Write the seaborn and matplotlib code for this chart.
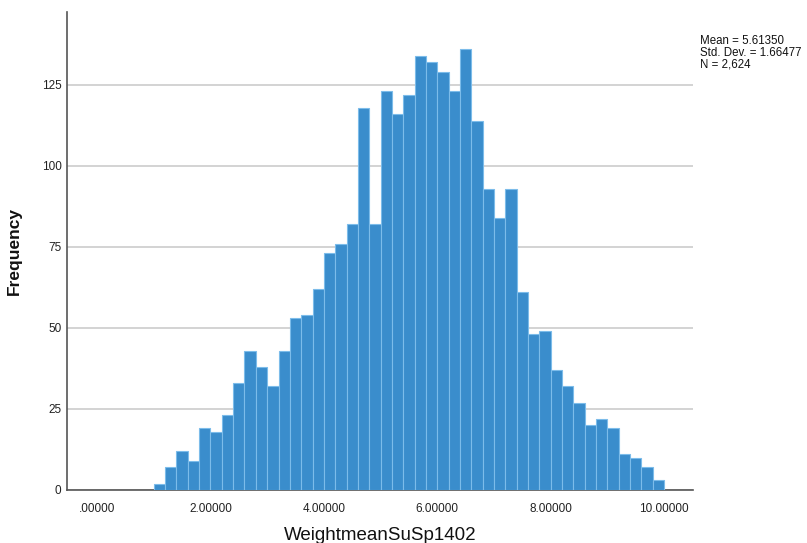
import numpy as np
import pandas as pd
import matplotlib
matplotlib.use("Agg")
import matplotlib.pyplot as plt
import seaborn as sns

# Data (bin width 0.2, from 1.0 to 10.0)
bin_start = 1.0
bin_width = 0.2
counts = [2, 7, 12, 9, 19, 18, 23, 33, 43, 38,
          32, 43, 53, 54, 62, 73, 76, 82, 118, 82,
          123, 116, 122, 134, 132, 129, 123, 136, 114, 93,
          84, 93, 61, 48, 49, 37, 32, 27, 20, 22,
          19, 11, 10, 7, 3]
x_ticks = [0, 2, 4, 6, 8, 10]
x_tick_labels = [".00000", "2.00000", "4.00000", "6.00000", "8.00000", "10.00000"]
y_ticks = [0, 25, 50, 75, 100, 125]
stats_text = "Mean = 5.61350\nStd. Dev. = 1.66477\nN = 2,624"
x_label = "WeightmeanSuSp1402"
y_label = "Frequency"

n = len(counts)
edges = [float(e) for e in bin_start + bin_width * np.arange(n + 1)]
centers = [(edges[i] + edges[i + 1]) / 2 for i in range(n)]
df = pd.DataFrame({"value": centers, "count": counts})

sns.set_style("white")
plt.rcParams["font.family"] = ["Liberation Sans", "DejaVu Sans"]

fig = plt.figure(figsize=(8.07, 5.43), dpi=100)
ax = fig.add_axes([67 / 807, 1 - 490 / 543, (693 - 67) / 807, (490 - 12) / 543])

sns.histplot(data=df, x="value", weights="count", bins=edges, ax=ax,
             color="#3a8dcc", edgecolor="#7cbcea", linewidth=0.8, alpha=1.0,
             zorder=3)

ax.set_xlim(-0.53, 10.51)
ax.set_ylim(0, 147.5)
ax.set_xticks(x_ticks)
ax.set_xticklabels(x_tick_labels)
ax.set_yticks(y_ticks)
ax.tick_params(axis="both", length=0, labelsize=8.5, colors="#222222")
ax.tick_params(axis="x", pad=9)
ax.tick_params(axis="y", pad=4)

ax.yaxis.grid(True, color="#c8c8c8", linewidth=1.1, zorder=0)
ax.xaxis.grid(False)
ax.set_axisbelow(True)

for s in ["top", "right"]:
    ax.spines[s].set_visible(False)
for s in ["left", "bottom"]:
    ax.spines[s].set_color("#555555")
    ax.spines[s].set_linewidth(1.2)

ax.set_xlabel(x_label, fontsize=13.5, labelpad=9, color="#111111")
ax.set_ylabel(y_label, fontsize=12.5, fontweight="bold", labelpad=14, color="#111111")

fig.text(700 / 807, 1 - 35 / 543, stats_text, fontsize=8.3, va="top", ha="left",
         linespacing=1.0, color="#111111")

fig.savefig("out.png", dpi=100)
